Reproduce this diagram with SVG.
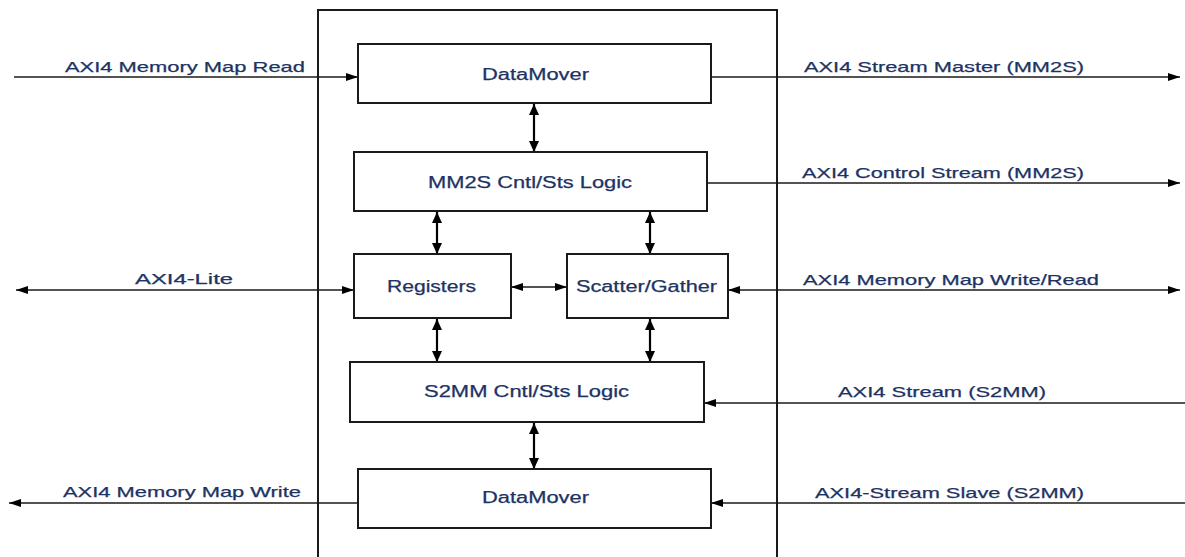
<svg xmlns="http://www.w3.org/2000/svg" width="1185" height="557" viewBox="0 0 1185 557">
<defs>
<marker id="arr" viewBox="0 0 12 8" refX="12" refY="4" markerWidth="12" markerHeight="8" markerUnits="userSpaceOnUse" orient="auto-start-reverse">
<path d="M0,0 L12,4 L0,8 z" fill="#000"/>
</marker>
<marker id="arrv" viewBox="0 0 11 10" refX="11" refY="5" markerWidth="11" markerHeight="10" markerUnits="userSpaceOnUse" orient="auto-start-reverse">
<path d="M0,0 L11,5 L0,10 z" fill="#000"/>
</marker>
<style>
.box{fill:#fff;stroke:#1a1a1a;stroke-width:2}
.outer{fill:none;stroke:#1a1a1a;stroke-width:2}
.ln{fill:none;stroke:#1a1a1a;stroke-width:1.7}
.lv{fill:none;stroke:#000;stroke-width:2.2}
.lbl{font-family:"Liberation Sans",Arial,sans-serif;font-size:15px;fill:#1d3363;stroke:#1d3363;stroke-width:0.25}
.nl{font-family:"Liberation Sans",Arial,sans-serif;font-size:16px;fill:#1d3363;stroke:#1d3363;stroke-width:0.25}
</style>
</defs>
<rect width="1185" height="557" fill="#fff"/>
<rect id="outer" class="outer" x="318" y="10" width="459" height="560"/>
<g id="connectors">
<line class="ln" x1="14" y1="77" x2="358" y2="77" marker-end="url(#arr)"/>
<line class="ln" x1="711" y1="77" x2="1180" y2="77" marker-end="url(#arr)"/>
<line class="ln" x1="707" y1="183" x2="1180" y2="183" marker-end="url(#arr)"/>
<line class="ln" x1="16" y1="290" x2="354" y2="290" marker-start="url(#arr)" marker-end="url(#arr)"/>
<line class="ln" x1="728" y1="290" x2="1180" y2="290" marker-start="url(#arr)" marker-end="url(#arr)"/>
<line class="ln" x1="511" y1="287" x2="567" y2="287" marker-start="url(#arr)" marker-end="url(#arr)"/>
<line class="lv" x1="534" y1="104" x2="534" y2="152" marker-start="url(#arrv)" marker-end="url(#arrv)"/>
<line class="lv" x1="437" y1="212" x2="437" y2="254" marker-start="url(#arrv)" marker-end="url(#arrv)"/>
<line class="lv" x1="650" y1="212" x2="650" y2="254" marker-start="url(#arrv)" marker-end="url(#arrv)"/>
<line class="lv" x1="437" y1="319" x2="437" y2="362" marker-start="url(#arrv)" marker-end="url(#arrv)"/>
<line class="lv" x1="650" y1="319" x2="650" y2="362" marker-start="url(#arrv)" marker-end="url(#arrv)"/>
<line class="lv" x1="534" y1="423" x2="534" y2="469" marker-start="url(#arrv)" marker-end="url(#arrv)"/>
<line class="ln" x1="1185" y1="403" x2="704" y2="403" marker-end="url(#arr)"/>
<line class="ln" x1="1185" y1="503" x2="711" y2="503" marker-end="url(#arr)"/>
<line class="ln" x1="358" y1="503" x2="9" y2="503" marker-end="url(#arr)"/>
</g>
<g id="labels">
<text class="lbl" x="65" y="72" textLength="240" lengthAdjust="spacingAndGlyphs">AXI4 Memory Map Read</text>
<text class="lbl" x="804" y="72" textLength="280" lengthAdjust="spacingAndGlyphs">AXI4 Stream Master (MM2S)</text>
<text class="lbl" x="802" y="178" textLength="282" lengthAdjust="spacingAndGlyphs">AXI4 Control Stream (MM2S)</text>
<text class="lbl" x="135" y="284" textLength="98" lengthAdjust="spacingAndGlyphs">AXI4-Lite</text>
<text class="lbl" x="803" y="285" textLength="296" lengthAdjust="spacingAndGlyphs">AXI4 Memory Map Write/Read</text>
<text class="lbl" x="838" y="397" textLength="208" lengthAdjust="spacingAndGlyphs">AXI4 Stream (S2MM)</text>
<text class="lbl" x="815" y="498" textLength="269" lengthAdjust="spacingAndGlyphs">AXI4-Stream Slave (S2MM)</text>
<text class="lbl" x="63" y="497" textLength="238" lengthAdjust="spacingAndGlyphs">AXI4 Memory Map Write</text>
</g>
<g id="dm_mm2s">
<rect class="box" x="358" y="44" width="353" height="59"/>
<text class="nl" x="482" y="80" textLength="107" lengthAdjust="spacingAndGlyphs">DataMover</text>
</g>
<g id="mm2s_logic">
<rect class="box" x="354" y="152" width="353" height="59"/>
<text class="nl" x="428" y="188" textLength="204" lengthAdjust="spacingAndGlyphs">MM2S Cntl/Sts Logic</text>
</g>
<g id="registers">
<rect class="box" x="354" y="254" width="157" height="64"/>
<text class="nl" x="387" y="292" textLength="89" lengthAdjust="spacingAndGlyphs">Registers</text>
</g>
<g id="scatter_gather">
<rect class="box" x="567" y="254" width="161" height="64"/>
<text class="nl" x="576" y="292" textLength="141" lengthAdjust="spacingAndGlyphs">Scatter/Gather</text>
</g>
<g id="s2mm_logic">
<rect class="box" x="350" y="362" width="354" height="60"/>
<text class="nl" x="424" y="397" textLength="205" lengthAdjust="spacingAndGlyphs">S2MM Cntl/Sts Logic</text>
</g>
<g id="dm_s2mm">
<rect class="box" x="358" y="469" width="353" height="59"/>
<text class="nl" x="482" y="503" textLength="107" lengthAdjust="spacingAndGlyphs">DataMover</text>
</g>
</svg>
